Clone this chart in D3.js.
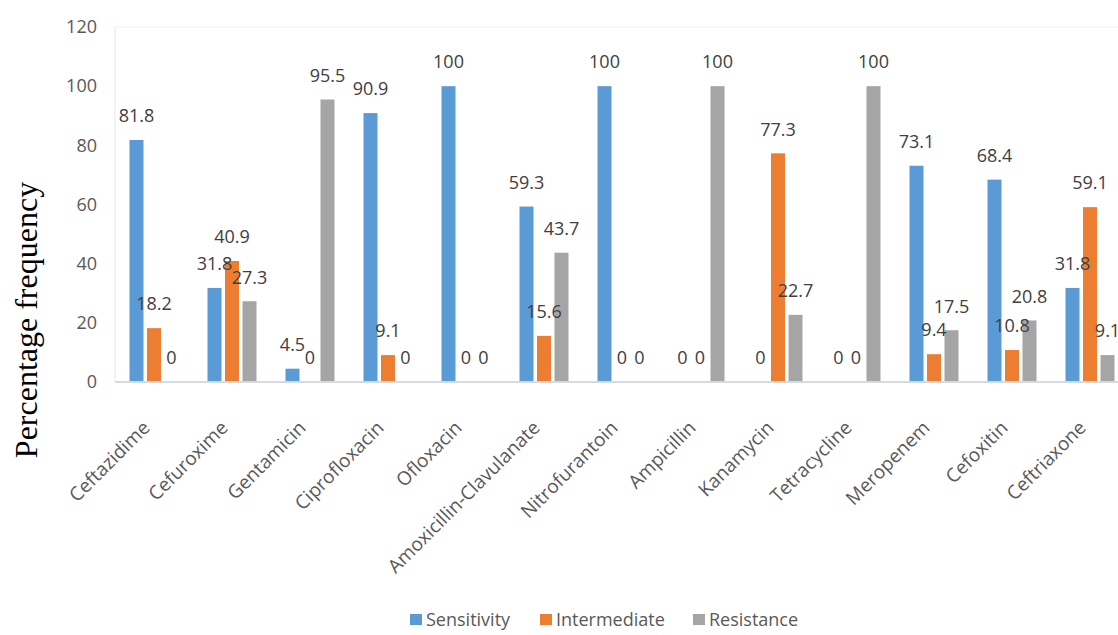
<!DOCTYPE html>
<html>
<head>
<meta charset="utf-8">
<script src="https://cdn.jsdelivr.net/npm/d3@7"></script>
<style>
  html, body { margin: 0; padding: 0; background: #fff; }
  svg { display: block; }
</style>
</head>
<body>
<svg id="chart" width="1118" height="635"></svg>
<script>
// Antibiotic susceptibility profile (%)
const antibiotics = ["Ceftazidime", "Cefuroxime", "Gentamicin", "Ciprofloxacin", "Ofloxacin",
  "Amoxicillin-Clavulanate", "Nitrofurantoin", "Ampicillin", "Kanamycin", "Tetracycline",
  "Meropenem", "Cefoxitin", "Ceftriaxone"];
const sensitivity  = [81.8, 31.8, 4.5, 90.9, 100, 59.3, 100, 0, 0, 0, 73.1, 68.4, 31.8];
const intermediate = [18.2, 40.9, 0, 9.1, 0, 15.6, 0, 0, 77.3, 0, 9.4, 10.8, 59.1];
const resistance   = [0, 27.3, 95.5, 0, 0, 43.7, 0, 100, 22.7, 100, 17.5, 20.8, 9.1];
const seriesNames  = ["Sensitivity", "Intermediate", "Resistance"];
const seriesColors = ["#5B9BD5", "#ED7D31", "#A5A5A5"];
const yTicks = [0, 20, 40, 60, 80, 100, 120];

const seriesValues = [sensitivity, intermediate, resistance];
const svg = d3.select("#chart");
const font = "'Open Sans', 'Noto Sans', sans-serif";

const plot = { left: 115, right: 1129, top: 27, bottom: 382 };

const x0 = d3.scaleBand().domain(antibiotics).range([plot.left, plot.right]).padding(0);
const x1 = d3.scaleBand().domain(seriesNames).range([-24.5, 24.5]).paddingInner(0.2);
const y = d3.scaleLinear().domain([0, 120]).range([plot.bottom, plot.top]);

// plot area frame
svg.append("line").attr("x1", plot.left).attr("x2", 1118)
  .attr("y1", plot.top).attr("y2", plot.top)
  .attr("stroke", "#f0f2f4").attr("stroke-width", 1.2);
svg.append("line").attr("x1", plot.left).attr("x2", plot.left)
  .attr("y1", plot.top).attr("y2", plot.bottom)
  .attr("stroke", "#e3ecf5").attr("stroke-width", 1.2);

// y axis labels
const yAxis = d3.axisLeft(y).tickValues(yTicks).tickSize(0).tickPadding(0);
const gy = svg.append("g").attr("transform", `translate(97,0)`).call(yAxis);
gy.select(".domain").remove();
gy.selectAll("text").attr("font-family", font).attr("font-size", 18)
  .attr("fill", "#595959");

// bars
const rows = antibiotics.map((name, i) => ({
  name,
  vals: seriesNames.map((s, k) => ({ series: s, k, value: seriesValues[k][i] }))
}));

const groups = svg.append("g").selectAll("g").data(rows).join("g")
  .attr("transform", d => `translate(${x0(d.name) + x0.bandwidth() / 2},0)`);

groups.selectAll("rect").data(d => d.vals).join("rect")
  .attr("x", d => x1(d.series))
  .attr("width", x1.bandwidth())
  .attr("y", d => y(d.value))
  .attr("height", d => y(0) - y(d.value))
  .attr("fill", d => seriesColors[d.k]);

// data labels
groups.selectAll("text.val").data(d => d.vals).join("text")
  .attr("class", "val")
  .attr("x", d => x1(d.series) + x1.bandwidth() / 2)
  .attr("y", d => y(d.value) - 24)
  .attr("dy", "0.35em")
  .attr("text-anchor", "middle")
  .attr("font-family", font).attr("font-size", 18)
  .attr("fill", "#404040")
  .text(d => d.value);

// x axis line and rotated category names
const xAxis = d3.axisBottom(x0).tickSize(0).tickPadding(0);
const gx = svg.append("g").attr("transform", `translate(0,${plot.bottom})`).call(xAxis);
gx.select(".domain").attr("stroke", "#d4dbe3").attr("stroke-width", 2)
  .attr("d", `M${plot.left},0H${plot.right}`);
gx.selectAll(".tick text")
  .attr("text-anchor", "end")
  .attr("font-family", font).attr("font-size", 19)
  .attr("fill", "#595959")
  .attr("dy", 0).attr("y", 0)
  .attr("transform", "translate(-3,47) rotate(-45)");

// y axis title
svg.append("text")
  .attr("transform", "translate(37,320) rotate(-90)")
  .attr("text-anchor", "middle")
  .attr("font-family", "'Liberation Serif', 'Times New Roman', serif")
  .attr("font-size", 32)
  .attr("fill", "#000")
  .text("Percentage frequency");

// legend
const legendX = [410, 540, 693];
const legend = svg.append("g").selectAll("g").data(seriesNames).join("g")
  .attr("transform", (d, i) => `translate(${legendX[i]},614)`);
legend.append("rect").attr("width", 12).attr("height", 11)
  .attr("fill", (d, i) => seriesColors[i]);
legend.append("text").attr("x", 16).attr("y", 6).attr("dy", "0.35em")
  .attr("font-family", font).attr("font-size", 18).attr("fill", "#595959")
  .text(d => d);
</script>
</body>
</html>
